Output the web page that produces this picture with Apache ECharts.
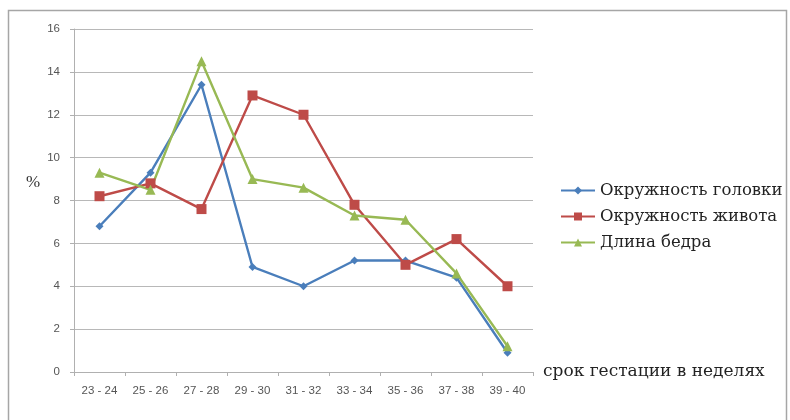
<!DOCTYPE html>
<html><head><meta charset="utf-8">
<script src="https://cdn.jsdelivr.net/npm/echarts@6/dist/echarts.min.js"></script>
<style>html,body{margin:0;padding:0;background:#fff}#c{width:790px;height:420px}</style>
</head><body><div id="c"></div>
<script>
const categories = ['23 - 24','25 - 26','27 - 28','29 - 30','31 - 32','33 - 34','35 - 36','37 - 38','39 - 40'];
const headCirc = [6.8, 9.3, 13.4, 4.9, 4.0, 5.2, 5.2, 4.4, 0.9];
const abdomenCirc = [8.2, 8.8, 7.6, 12.9, 12.0, 7.8, 5.0, 6.2, 4.0];
const femurLength = [9.3, 8.5, 14.5, 9.0, 8.6, 7.3, 7.1, 4.6, 1.2];
const seriesNames = ['Окружность головки','Окружность живота','Длина бедра'];
const yTicks = [0,2,4,6,8,10,12,14,16];

const chart = echarts.init(document.getElementById('c'), null, {renderer:'canvas'});
const serif = '"DejaVu Serif","Liberation Serif",serif';
const sans = '"Liberation Sans","Noto Sans",sans-serif';
chart.setOption({
  animation:false,
  backgroundColor:'#fff',
  graphic:[{type:'rect',shape:{x:8.5,y:10.5,width:778,height:420},style:{fill:'none',stroke:'#a6a6a6',lineWidth:1.5},silent:true},
           {type:'text',left:26,top:174,style:{text:'%',font:'17px "Liberation Serif",serif',fill:'#333'}}],
  grid:{left:74,right:257,top:29,bottom:48},
  legend:{orient:'vertical',left:555,top:177,itemGap:9,itemWidth:34,itemHeight:10,
    textStyle:{fontFamily:serif,fontSize:16.5,color:'#222'},data:seriesNames},
  xAxis:{type:'category',data:categories,boundaryGap:true,
    name:'срок гестации в неделях',nameLocation:'end',nameGap:10,
    nameTextStyle:{fontFamily:serif,fontSize:17,color:'#222',verticalAlign:'middle'},
    axisLine:{lineStyle:{color:'#b0b0b0'}},
    axisTick:{show:true,length:4,lineStyle:{color:'#b0b0b0'}},
    axisLabel:{fontFamily:sans,fontSize:11.5,color:'#555',margin:13,interval:0}},
  yAxis:{type:'value',min:0,max:16,interval:2,
    axisLine:{show:true,lineStyle:{color:'#b0b0b0'}},
    axisTick:{show:true,length:4,lineStyle:{color:'#b0b0b0'}},
    axisLabel:{fontFamily:sans,fontSize:11.5,color:'#555',margin:14,
      formatter:v=>yTicks.includes(v)?String(v):''},
    splitLine:{lineStyle:{color:'#b8b8b8',width:1}}},
  series:[
    {name:seriesNames[0],type:'line',data:headCirc,symbol:'diamond',symbolSize:8,
      itemStyle:{color:'#4a7ebb'},lineStyle:{color:'#4a7ebb',width:2.4}},
    {name:seriesNames[1],type:'line',data:abdomenCirc,symbol:'rect',symbolSize:10,
      itemStyle:{color:'#be4b48'},lineStyle:{color:'#be4b48',width:2.4}},
    {name:seriesNames[2],type:'line',data:femurLength,symbol:'triangle',symbolSize:10,
      itemStyle:{color:'#98b954'},lineStyle:{color:'#98b954',width:2.4}}
  ]
});
</script></body></html>
